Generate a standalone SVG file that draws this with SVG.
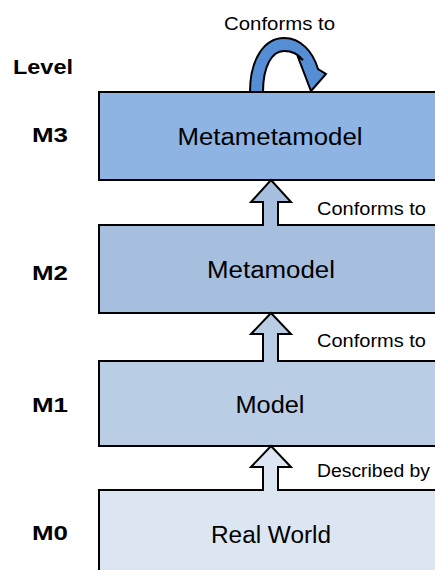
<svg xmlns="http://www.w3.org/2000/svg" width="435" height="570" viewBox="0 0 435 570">
  <style>
    .box { stroke: #000; stroke-width: 2; }
    .up { stroke: #000; stroke-width: 2; stroke-linejoin: miter; }
    .name { font-family: "Liberation Sans", Arial, sans-serif; font-size: 23px; fill: #000; text-anchor: middle; }
    .rel { font-family: "Liberation Sans", Arial, sans-serif; font-size: 18px; fill: #000; }
    .lvl { font-family: "Liberation Sans", Arial, sans-serif; font-size: 20px; font-weight: bold; fill: #000; }
  </style>
  <rect width="435" height="570" fill="#fff"/>

  <!-- level column -->
  <g id="levels">
    <text class="lvl" x="13" y="74" textLength="60" lengthAdjust="spacingAndGlyphs">Level</text>
    <text class="lvl" x="32" y="142" textLength="36" lengthAdjust="spacingAndGlyphs">M3</text>
    <text class="lvl" x="32" y="280" textLength="36" lengthAdjust="spacingAndGlyphs">M2</text>
    <text class="lvl" x="32" y="412" textLength="36" lengthAdjust="spacingAndGlyphs">M1</text>
    <text class="lvl" x="32" y="540" textLength="36" lengthAdjust="spacingAndGlyphs">M0</text>
  </g>

  <!-- layers -->
  <g id="m3">
    <rect class="box" x="99" y="92" width="345" height="88" fill="#8EB4E3"/>
    <text class="name" x="270" y="145" textLength="185" lengthAdjust="spacingAndGlyphs">Metametamodel</text>
  </g>
  <g id="m2">
    <rect class="box" x="99" y="225" width="345" height="88" fill="#A7BFDE"/>
    <text class="name" x="271" y="278" textLength="128" lengthAdjust="spacingAndGlyphs">Metamodel</text>
  </g>
  <g id="m1">
    <rect class="box" x="99" y="361" width="345" height="85" fill="#B9CDE5"/>
    <text class="name" x="270" y="413" textLength="69" lengthAdjust="spacingAndGlyphs">Model</text>
  </g>
  <g id="m0">
    <rect class="box" x="99" y="490" width="345" height="90" fill="#DCE6F2"/>
    <text class="name" x="271" y="543" textLength="120" lengthAdjust="spacingAndGlyphs">Real World</text>
  </g>

  <!-- connectors -->
  <g id="connectors">
    <!-- self loop on the top layer -->
    <path class="up" fill="#558ED5" d="M250,92 C250,58 265,38 284,38 C301,38 313,52 318,69 L326,74 L311,91 L298,57 L303,60 C299,55 292,51 284,51 C272,51 263,66 263,92 Z"/>
    <!-- block arrows pointing up between layers -->
    <path class="up" fill="#A7BFDE" d="M263,226 L263,202 L251,202 L271,180 L291,202 L278,202 L278,226"/>
    <path class="up" fill="#B9CDE5" d="M263,362 L263,334 L251,334 L271,313 L291,334 L278,334 L278,362"/>
    <path class="up" fill="#DCE6F2" d="M263,491 L263,467 L251,467 L271,446 L291,467 L278,467 L278,491"/>
    <text class="rel" x="224" y="30" textLength="111" lengthAdjust="spacingAndGlyphs">Conforms to</text>
    <text class="rel" x="317" y="215" textLength="109" lengthAdjust="spacingAndGlyphs">Conforms to</text>
    <text class="rel" x="317" y="347" textLength="109" lengthAdjust="spacingAndGlyphs">Conforms to</text>
    <text class="rel" x="317" y="477" textLength="113" lengthAdjust="spacingAndGlyphs">Described by</text>
  </g>
</svg>
